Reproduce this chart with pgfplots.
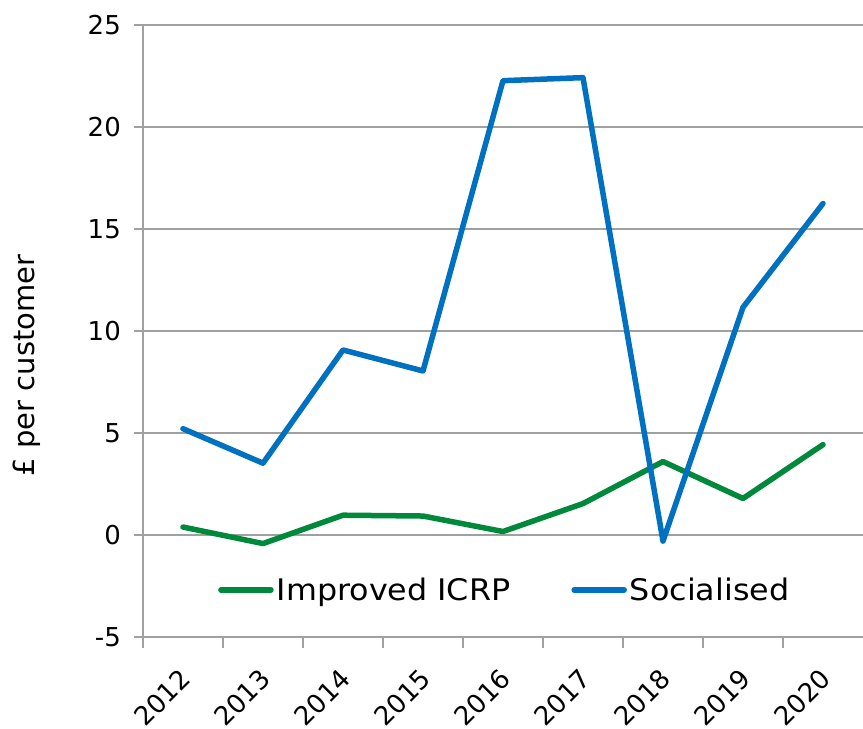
\documentclass[border=0pt]{standalone}
\usepackage{fontspec}
\setmainfont{DejaVu Sans}
\newfontfamily\legfont{DejaVu Sans}[FakeStretch=1.07]
\usepackage{pgfplots}
\pgfplotsset{compat=1.18}
\definecolor{icrp}{HTML}{00893A}
\definecolor{soc}{HTML}{0070C0}
\definecolor{gridgray}{HTML}{A0A0A0}

\begin{document}
\begin{tikzpicture}
\useasboundingbox (0,0) rectangle (863bp,729bp);
\begin{axis}[
  at={(143bp,92bp)}, anchor=south west,
  scale only axis, width=720bp, height=612bp,
  xmin=-0.5, xmax=8.5, ymin=-5, ymax=25,
  axis x line*=bottom, axis y line*=left,
  axis line style={gridgray, line width=1.5bp},
  ymajorgrids, grid style={gridgray, line width=1.5bp},
  ytick={-5,0,5,10,15,20,25},
  yticklabels={-5,0,5,10,15,20,25},
  xtick={0,...,8},
  xticklabels={2012,2013,2014,2015,2016,2017,2018,2019,2020},
  minor xtick={-0.5,0.5,...,7.5},
  tick align=outside,
  major tick length=9bp, minor tick length=11bp,
  tick style={gridgray, line width=1.5bp},
  major x tick style={draw=none},
  ticklabel style={font=\fontsize{26bp}{30bp}\selectfont},
  yticklabel style={anchor=east, inner sep=0pt, xshift=-13bp},
  % shifts act in the rotated frame of the labels
  xticklabel style={rotate=45, anchor=north east, inner sep=0pt, xshift=-18bp, yshift=-12bp},
  ylabel={£ per customer},
  ylabel style={at={(rel axis cs:-0.161,0.444)}, anchor=center, font=\fontsize{29bp}{33bp}\selectfont},
  legend style={at={(rel axis cs:0.100,0.077)}, anchor=west, draw=none, fill=none,
    font=\legfont\fontsize{29.7bp}{33bp}\selectfont, legend columns=2,
    /tikz/every even column/.append style={column sep=58bp},
    nodes={inner sep=3bp}},
  legend image code/.code={\draw[#1] (0bp,0bp) -- (50bp,0bp);},
  every axis plot/.append style={line width=5.5bp, line cap=round, line join=round},
]
\addplot[icrp] coordinates {
  (0,0.39) (1,-0.42) (2,0.97) (3,0.93) (4,0.17) (5,1.54) (6,3.60) (7,1.79) (8,4.43)
};
\addlegendentry{Improved ICRP}
\addplot[soc] coordinates {
  (0,5.21) (1,3.52) (2,9.07) (3,8.04) (4,22.27) (5,22.42) (6,-0.30) (7,11.16) (8,16.25)
};
\addlegendentry{Socialised}
\end{axis}
\end{tikzpicture}
\end{document}
